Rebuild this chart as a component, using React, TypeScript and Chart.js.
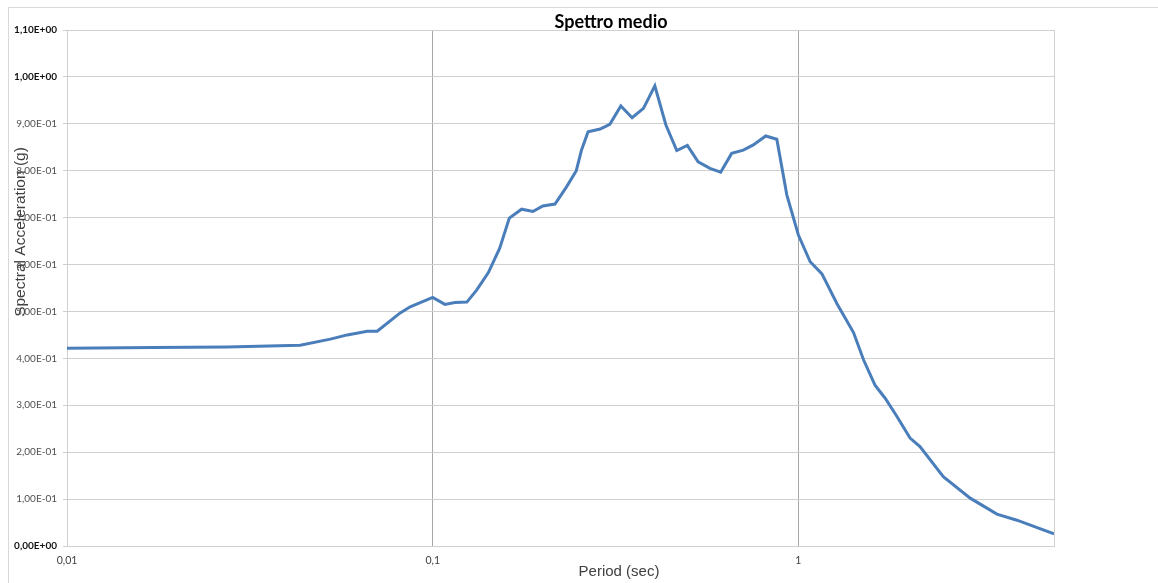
import React, { useEffect, useRef } from "react";
import { Chart, registerables } from "chart.js";

Chart.register(...registerables);

// Period (s) and mean spectral acceleration (g)
const periods = [
  0.01, 0.0172, 0.0274, 0.0434, 0.0525, 0.0584, 0.0662, 0.0705, 0.0815, 0.0868,
  0.1, 0.108, 0.115, 0.124, 0.132, 0.142, 0.1525, 0.162, 0.175, 0.188,
  0.2, 0.216, 0.232, 0.247, 0.255, 0.266, 0.287, 0.305, 0.327, 0.351,
  0.377, 0.405, 0.434, 0.465, 0.497, 0.532, 0.573, 0.613, 0.657, 0.707,
  0.753, 0.814, 0.873, 0.93, 1.0, 1.077, 1.16, 1.274, 1.415, 1.507,
  1.62, 1.727, 1.86, 2.02, 2.15, 2.49, 2.95, 3.49, 3.96, 5.0,
];
const spectralAcc = [
  0.4215, 0.423, 0.424, 0.428, 0.441, 0.45, 0.458, 0.458, 0.497, 0.51,
  0.53, 0.515, 0.519, 0.52, 0.546, 0.583, 0.635, 0.699, 0.718, 0.713,
  0.725, 0.729, 0.765, 0.8, 0.843, 0.883, 0.889, 0.899, 0.938, 0.913,
  0.933, 0.981, 0.898, 0.843, 0.854, 0.819, 0.805, 0.797, 0.837, 0.844,
  0.855, 0.874, 0.867, 0.748, 0.663, 0.606, 0.58, 0.517, 0.455, 0.397,
  0.343, 0.315, 0.276, 0.23, 0.212, 0.148, 0.102, 0.068, 0.055, 0.026,
];

const xTickValues = [0.01, 0.1, 1];
const xTickLabels = ["0,01", "0,1", "1"];
const yTickValues = [0, 0.1, 0.2, 0.3, 0.4, 0.5, 0.6, 0.7, 0.8, 0.9, 1.0, 1.1];
const yTickLabels = [
  "0,00E+00", "1,00E-01", "2,00E-01", "3,00E-01", "4,00E-01", "5,00E-01",
  "6,00E-01", "7,00E-01", "8,00E-01", "9,00E-01", "1,00E+00", "1,10E+00",
];
const boldYTicks = ["0,00E+00", "1,00E+00", "1,10E+00"];

const chartTitle = "Spettro medio";
const xTitle = "Period (sec)";
const yTitle = "Spectral Acceleration (g)";

const W = 1158;
const H = 583;

const decorPlugin = {
  id: "decor",
  beforeDraw(chart: any) {
    const ctx = chart.ctx;
    ctx.save();
    ctx.fillStyle = "#ffffff";
    ctx.fillRect(0, 0, chart.width, chart.height);
    ctx.strokeStyle = "#d9d9d9";
    ctx.lineWidth = 1;
    ctx.beginPath();
    ctx.moveTo(8.5, H);
    ctx.lineTo(8.5, 7.5);
    ctx.lineTo(W, 7.5);
    ctx.stroke();
    ctx.restore();
  },
  beforeDatasetsDraw(chart: any) {
    const { ctx, chartArea } = chart;
    ctx.save();
    ctx.strokeStyle = "#d0d0d0";
    ctx.lineWidth = 1;
    ctx.beginPath();
    ctx.moveTo(Math.round(chartArea.right) + 0.5, chartArea.top);
    ctx.lineTo(Math.round(chartArea.right) + 0.5, chartArea.bottom);
    ctx.moveTo(chartArea.left, Math.round(chartArea.bottom) + 0.5);
    ctx.lineTo(chartArea.right, Math.round(chartArea.bottom) + 0.5);
    ctx.stroke();
    ctx.restore();
  },
  afterDraw(chart: any) {
    const ctx = chart.ctx;
    ctx.save();
    ctx.fillStyle = "#000000";
    ctx.font = "bold 18px Lato, 'Open Sans', sans-serif";
    ctx.textAlign = "center";
    ctx.textBaseline = "middle";
    ctx.fillText(chartTitle, 611, 22);

    ctx.fillStyle = "#404040";
    ctx.font = "15px 'Liberation Sans', Arial, sans-serif";
    ctx.fillText(xTitle, 619, 572);

    ctx.font = "15.5px 'Liberation Sans', Arial, sans-serif";
    ctx.translate(21, 232);
    ctx.rotate(-Math.PI / 2);
    ctx.fillText(yTitle, 0, 0);
    ctx.restore();
  },
};

export default function App() {
  const canvasRef = useRef<HTMLCanvasElement | null>(null);

  useEffect(() => {
    if (!canvasRef.current) return;
    const points = periods.map((p, i) => ({ x: p, y: spectralAcc[i] }));
    const chart = new Chart(canvasRef.current, {
      type: "scatter",
      data: {
        datasets: [
          {
            label: "Spettro medio",
            data: points,
            showLine: true,
            borderColor: "#4a7ebb",
            backgroundColor: "#4a7ebb",
            borderWidth: 3,
            pointRadius: 0,
            tension: 0,
          },
        ],
      },
      options: {
        responsive: false,
        animation: false,
        layout: { padding: { top: 30, right: 104, left: 0, bottom: 0 } },
        plugins: {
          legend: { display: false },
          title: { display: false },
          tooltip: { enabled: false },
        },
        scales: {
          x: {
            type: "logarithmic",
            min: 0.01,
            max: 5,
            afterBuildTicks: (scale: any) => {
              scale.ticks = xTickValues.map((v) => ({ value: v }));
            },
            afterFit: (scale: any) => {
              scale.height = 37;
            },
            grid: {
              color: (c: any) =>
                c.tick && c.tick.value === 0.01 ? "#d0d0d0" : "#a6a6a6",
              lineWidth: 1,
              drawTicks: false,
            },
            border: { display: true, color: "#d0d0d0" },
            ticks: {
              autoSkip: false,
              maxRotation: 0,
              padding: 8,
              color: "#404040",
              font: { family: "Lato, 'Open Sans', sans-serif", size: 10.5 },
              callback: (_v: any, i: number) => xTickLabels[i],
            },
          },
          y: {
            type: "linear",
            min: 0,
            max: 1.1,
            afterBuildTicks: (scale: any) => {
              scale.ticks = yTickValues.map((v) => ({ value: v }));
            },
            afterFit: (scale: any) => {
              scale.width = 67;
            },
            grid: {
              color: "#d0d0d0",
              lineWidth: 1,
              tickLength: 4,
            },
            border: { display: true, color: "#d0d0d0" },
            ticks: {
              autoSkip: false,
              padding: 6,
              color: (c: any) =>
                boldYTicks.includes(yTickLabels[c.index]) ? "#111111" : "#505050",
              font: (c: any) => ({
                family: "Lato, 'Open Sans', sans-serif",
                size: 10,
                weight: boldYTicks.includes(yTickLabels[c.index]) ? "bold" : "normal",
              }),
              callback: (_v: any, i: number) => yTickLabels[i],
            },
          },
        },
      },
      plugins: [decorPlugin],
    } as any);
    return () => chart.destroy();
  }, []);

  return (
    <div style={{ position: "fixed", left: 0, top: 0, width: W, height: H, background: "#fff" }}>
      <canvas ref={canvasRef} width={W} height={H} style={{ display: "block", width: W, height: H }} />
    </div>
  );
}
